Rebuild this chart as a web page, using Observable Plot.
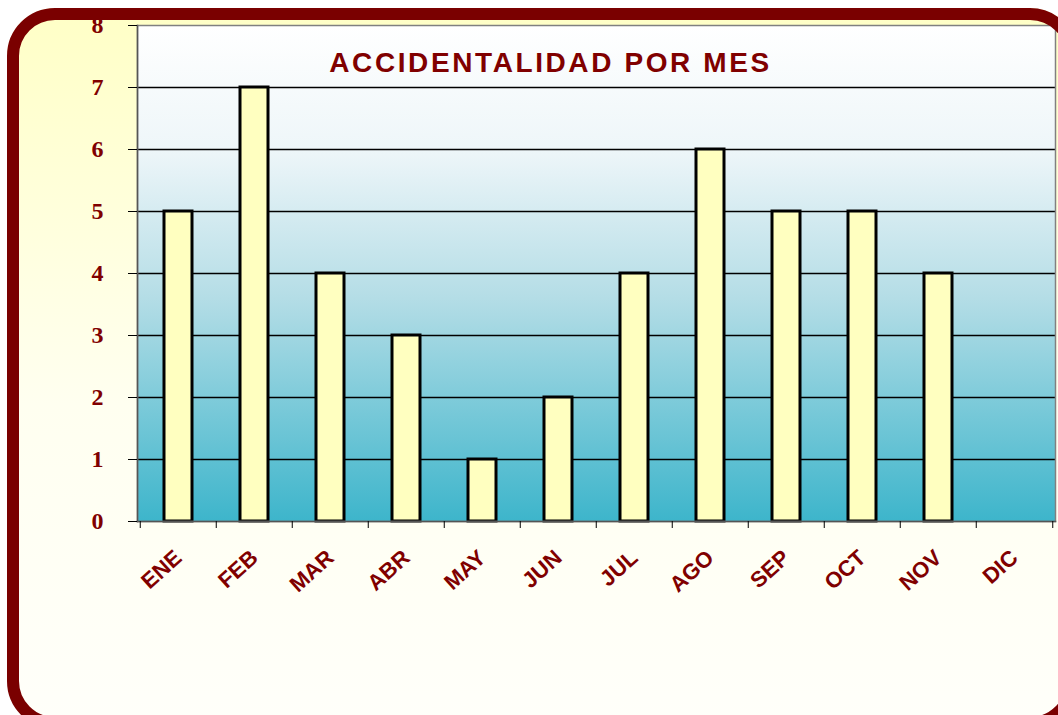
<!DOCTYPE html>
<html>
<head>
<meta charset="utf-8">
<script src="https://cdn.jsdelivr.net/npm/d3@7"></script>
<script src="https://cdn.jsdelivr.net/npm/@observablehq/plot@0.6"></script>
<style>
  html, body { margin: 0; padding: 0; background: #ffffff; overflow: hidden; }
  #wrap { position: relative; width: 1058px; height: 715px; overflow: hidden; }
  #bg { position: absolute; left: 7px; top: 8px; width: 1071px; height: 721px; box-sizing: border-box;
        border-radius: 48px; background: linear-gradient(to bottom, #ffffc6 0%, #fffff0 55%, #fffffa 100%); }
  #border { position: absolute; left: 7px; top: 8px; width: 1071px; height: 721px; box-sizing: border-box;
        border: 12px solid #7a0000; border-radius: 48px; pointer-events: none; }
  #chart { position: absolute; left: 0; top: 0; }
  #chart svg { background: transparent !important; overflow: visible; }
</style>
</head>
<body>
<div id="wrap">
  <div id="bg"></div>
  <div id="chart"></div>
  <div id="border"></div>
</div>
<script>
const meses = ["ENE", "FEB", "MAR", "ABR", "MAY", "JUN", "JUL", "AGO", "SEP", "OCT", "NOV", "DIC"];
const accidentes = [5, 7, 4, 3, 1, 2, 4, 6, 5, 5, 4, null];
const yTicks = [0, 1, 2, 3, 4, 5, 6, 7, 8];
const gridValues = [1, 2, 3, 4, 5, 6, 7];
const titulo = ["ACCIDENTALIDAD POR MES"];

const data = meses.map((m, i) => ({mes: m, valor: accidentes[i]})).filter(d => d.valor != null);

const W = 1058, H = 715;
const mLeft = 137, mRight = 3, mTop = 25, mBottom = 194;
const step = (W - mLeft - mRight) / meses.length;
const darkRed = "#800000";

const defs = () => {
  const d = d3.create("svg:defs");
  const g = d.append("linearGradient").attr("id", "plotGrad").attr("x1", 0).attr("y1", 0).attr("x2", 0).attr("y2", 1);
  g.append("stop").attr("offset", "0%").attr("stop-color", "#ffffff");
  g.append("stop").attr("offset", "25%").attr("stop-color", "#eef6f9");
  g.append("stop").attr("offset", "55%").attr("stop-color", "#b4dde6");
  g.append("stop").attr("offset", "100%").attr("stop-color", "#3db5cb");
  return d.node();
};

const chart = Plot.plot({
  width: W,
  height: H,
  marginLeft: mLeft,
  marginRight: mRight,
  marginTop: mTop,
  marginBottom: mBottom,
  style: {background: "transparent", overflow: "visible"},
  x: {domain: meses, paddingInner: 0.63, paddingOuter: 0.315},
  y: {domain: [0, 8]},
  marks: [
    defs,
    Plot.frame({fill: "url(#plotGrad)", stroke: null}),
    Plot.ruleY(gridValues, {stroke: "#000", strokeWidth: 1.6}),
    Plot.barY(data, {x: "mes", y: "valor", fill: "#ffffc0", stroke: "#000", strokeWidth: 3}),
    Plot.frame({stroke: "#808080", strokeWidth: 1.5}),
    Plot.frame({anchor: "left", stroke: "#555", strokeWidth: 1.5}),
    Plot.frame({anchor: "bottom", stroke: "#555", strokeWidth: 1.5}),
    Plot.axisY({ticks: yTicks, tickSize: 9, tickPadding: 25, stroke: "#000", fill: darkRed,
      fontSize: 24, fontWeight: "bold", fontFamily: "Liberation Serif, serif", label: null}),
    Plot.axisX({tickSize: 0, tickPadding: 33, tickRotate: -42, fill: darkRed,
      fontSize: 22, fontWeight: "bold", fontFamily: "Liberation Sans, Arial, sans-serif", label: null}),
    Plot.axisX({tickSize: 7, dx: -step / 2, stroke: "#000", tickFormat: () => "", label: null}),
    Plot.axisX({ticks: [meses[meses.length - 1]], tickSize: 7, dx: step / 2, stroke: "#000", tickFormat: () => "", label: null}),
    Plot.text(titulo, {frameAnchor: "top-left", dx: 413, dy: 27, text: d => d, textAnchor: "middle",
      fill: darkRed, fontSize: 28, fontWeight: "bold", fontFamily: "Liberation Sans, Arial, sans-serif"})
  ]
});
document.getElementById("chart").appendChild(chart);
document.querySelectorAll("#chart svg text").forEach(t => {
  if (t.textContent === titulo[0]) t.setAttribute("letter-spacing", "2.6");
});
</script>
</body>
</html>
